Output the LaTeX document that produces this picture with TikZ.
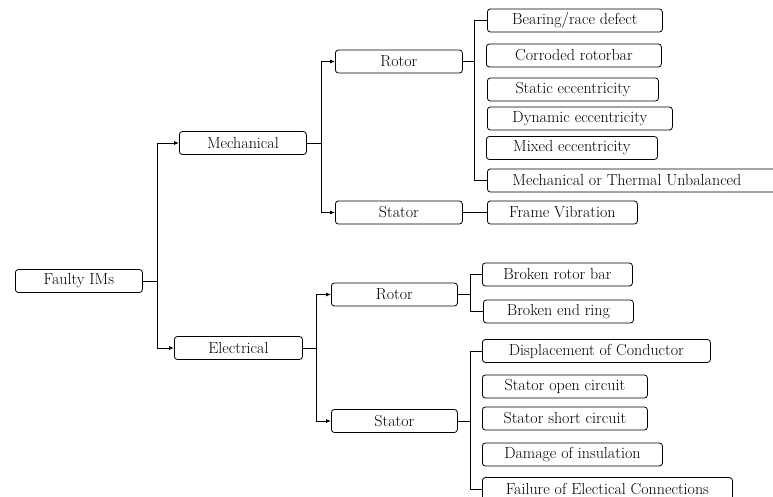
\documentclass[tikz,border=0pt]{standalone}
\usetikzlibrary{arrows.meta}
\begin{document}
\begin{tikzpicture}[x=1pt,y=-1pt,
  box/.style={draw, rounded corners=3pt, minimum height=23pt, inner sep=0pt, anchor=west,
    font=\fontsize{16}{19}\selectfont, line width=0.8pt},
  arr/.style={line width=0.8pt, -{Latex[length=5pt,width=4pt]}},
  ln/.style={line width=0.8pt}]
\useasboundingbox (0,0) rectangle (773,497);
% level 0-1
\node[box, minimum width=127pt] (faulty) at (15,281) {Faulty IMs};
\node[box, minimum width=127pt] (mech) at (179,143) {Mechanical};
\node[box, minimum width=128pt] (elec) at (174,348) {Electrical};
% level 2
\node[box, minimum width=127pt] (mrotor) at (335,61.5) {Rotor};
\node[box, minimum width=127pt] (mstator) at (335,212.5) {Stator};
\node[box, minimum width=126pt] (erotor) at (331,294.5) {Rotor};
\node[box, minimum width=126pt] (estator) at (331,421) {Stator};
% leaves mechanical
\node[box, minimum width=175pt] (bearing) at (487,20.5) {Bearing/race defect};
\node[box, minimum width=175pt] (corroded) at (486,55.5) {Corroded rotorbar};
\node[box, minimum width=171pt] (static) at (487,89.5) {Static eccentricity};
\node[box, minimum width=185pt] (dynamic) at (487,118.5) {Dynamic eccentricity};
\node[box, minimum width=171pt] (mixed) at (486,148) {Mixed eccentricity};
\node[box, minimum width=313pt] (thermal) at (487,180.5) {\hspace*{-34pt}Mechanical or Thermal Unbalanced};
\node[box, minimum width=150pt] (frame) at (487,212.5) {Frame Vibration};
% leaves electrical
\node[box, minimum width=150pt] (bar) at (482,274.5) {Broken rotor bar};
\node[box, minimum width=150pt] (ring) at (483,311.5) {Broken end ring};
\node[box, minimum width=228pt] (displ) at (482,351) {Displacement of Conductor};
\node[box, minimum width=165pt] (open) at (482,386.5) {Stator open circuit};
\node[box, minimum width=165pt] (short) at (482,418.5) {Stator short circuit};
\node[box, minimum width=180pt] (damage) at (482,454.5) {Damage of insulation};
\node[box, minimum width=250pt] (failure) at (482,489) {Failure of Electical Connections};
% junctions
\coordinate (j0) at (157,281);
\coordinate (jm) at (321,143);
\coordinate (je) at (316,348);
\coordinate (jmr) at (474,61.5);
\coordinate (jer) at (470,294.5);
\coordinate (jes) at (470,421);
% connectors
\draw[ln] (faulty.east) -- (j0);
\draw[arr] (j0) |- (mech.west);
\draw[arr] (j0) |- (elec.west);
\draw[ln] (mech.east) -- (jm);
\draw[arr] (jm) |- (mrotor.west);
\draw[arr] (jm) |- (mstator.west);
\draw[ln] (elec.east) -- (je);
\draw[arr] (je) |- (erotor.west);
\draw[arr] (je) |- (estator.west);
\draw[ln] (mrotor.east) -- (jmr);
\draw[ln] (jmr) |- (bearing.west);
\draw[ln] (jmr) |- (thermal.west);
\draw[ln] (mstator.east) -- (frame.west);
\draw[ln] (erotor.east) -- (jer);
\draw[ln] (jer) |- (bar.west);
\draw[ln] (jer) |- (ring.west);
\draw[ln] (estator.east) -- (jes);
\draw[ln] (jes) |- (displ.west);
\draw[ln] (jes) |- (failure.west);
\end{tikzpicture}
\end{document}
